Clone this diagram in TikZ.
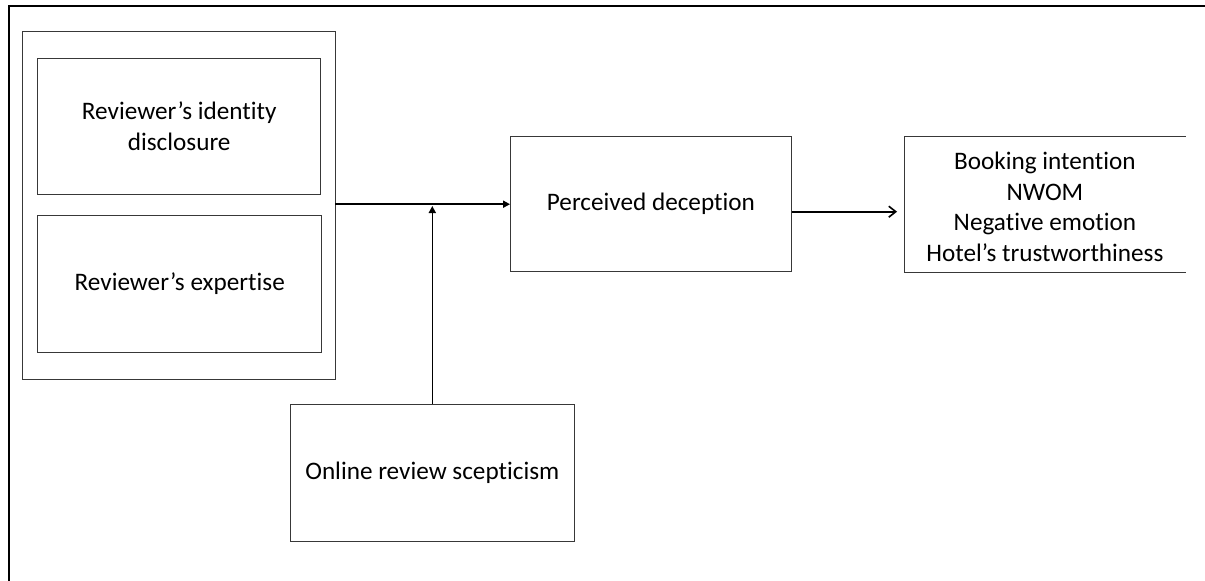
\documentclass[tikz,border=0pt]{standalone}
\usepackage{fontspec}
\setmainfont{Carlito}[Ligatures=NoCommon]
\usetikzlibrary{arrows.meta}

\begin{document}
\begin{tikzpicture}[x=1pt,y=-1pt,
    font=\fontsize{25.2}{30.5}\selectfont,
    box/.style={draw=black!78,line width=1pt,inner sep=0pt,outer sep=0pt,align=center},
    solidarrow/.style={line width=1.6pt,-{Triangle[length=7pt,width=7pt]}},
    openarrow/.style={line width=1.6pt,-{Straight Barb[length=7pt,width=11pt]}}]
  \useasboundingbox (0,0) rectangle (1205,581);
  % frame on top and left only
  \draw[line width=2pt] (1205,6) -- (9.3,6) -- (9.3,581);

  \node[box,minimum width=312.3pt,minimum height=348.3pt] (group) at (178.9,205.2) {};
  \node[box,minimum width=283.5pt,minimum height=136pt] (ident) at (179.2,126) {Reviewer’s identity\\disclosure};
  \node[box,minimum width=283.5pt,minimum height=137pt] (expert) at (179.7,283.7) {Reviewer’s expertise};
  \node[box,minimum width=281.7pt,minimum height=135pt] (decep) at (650.9,204.2) {Perceived deception};
  \node[box,minimum width=284pt,minimum height=137.7pt] (scept) at (432.3,472.9) {Online review scepticism};
  \node[inner sep=0pt,outer sep=0pt,align=center,minimum width=281.7pt,minimum height=136pt] (outc) at (1044.9,207)
    {Booking intention\\NWOM\\Negative emotion\\Hotel’s trustworthiness};
  % right side of this box is left open
  \draw[draw=black!78,line width=1pt] ([yshift=2.3pt]outc.north east) -- ([yshift=2.3pt]outc.north west)
    -- ([yshift=2.3pt]outc.south west) -- ([yshift=2.3pt]outc.south east);

  \coordinate (join) at (432.3,206);
  \coordinate (tail) at ([yshift=-7.5pt]decep.east);
  \draw[solidarrow] (group.east |- decep.west) -- (decep.west);
  \draw[solidarrow] (scept.north) -- (scept.north |- join);
  \draw[openarrow] (tail) -- ([xshift=-7pt]outc.west |- tail);
\end{tikzpicture}
\end{document}
